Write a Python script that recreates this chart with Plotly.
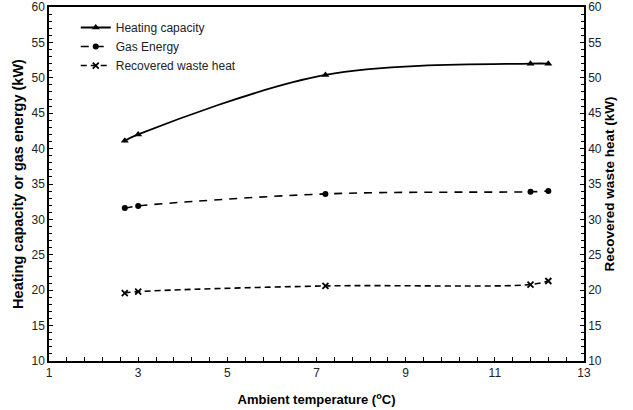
import plotly.graph_objects as go

temps = [2.7, 3.0, 7.2, 11.8, 12.2]
heating = [41.1, 42.0, 50.4, 52.0, 52.0]
gas = [31.6, 31.9, 33.6, 33.9, 34.0]
waste = [19.6, 19.8, 20.6, 20.8, 21.3]

x_ticks = [1, 3, 5, 7, 9, 11, 13]
y_ticks = [10, 15, 20, 25, 30, 35, 40, 45, 50, 55, 60]

fig = go.Figure()
fig.add_trace(go.Scatter(x=temps, y=heating, name="Heating capacity", mode="lines+markers",
                         line=dict(color="black", width=1.8, shape="spline"),
                         marker=dict(symbol="triangle-up", size=7, color="black")))
fig.add_trace(go.Scatter(x=temps, y=gas, name="Gas Energy", mode="lines+markers",
                         line=dict(color="black", width=1.6, dash="8px,7px", shape="spline"),
                         marker=dict(symbol="circle", size=6, color="black")))
fig.add_trace(go.Scatter(x=temps, y=waste, name="Recovered waste heat", mode="lines+markers",
                         yaxis="y2",
                         line=dict(color="black", width=1.6, dash="6px,4px", shape="spline"),
                         marker=dict(symbol="x-thin", size=6, color="black",
                                     line=dict(color="black", width=1.8))))

font = dict(family="Liberation Sans, Arial", size=12, color="#222")


def tfont(sz):
    return dict(family="Liberation Sans, Arial", size=sz, color="black", weight="bold")


fig.update_layout(
    width=633, height=410,
    margin=dict(l=49, r=49, t=7, b=49),
    paper_bgcolor="white", plot_bgcolor="white",
    font=font,
    showlegend=True,
    legend=dict(x=0.05, y=0.983, xanchor="left", yanchor="top",
                bgcolor="rgba(0,0,0,0)", font=dict(family="Liberation Sans, Arial", size=12, color="#222"),
                itemwidth=30, tracegroupgap=0),
    xaxis=dict(range=[1, 13], tickvals=x_ticks, ticktext=[str(v) for v in x_ticks],
               ticks="inside", ticklen=4, tickcolor="black", automargin=False,
               ticklabeloverflow="allow",
               minor=dict(dtick=0.4, tick0=1, ticks="inside", ticklen=4, tickcolor="black"),
               showline=True, linecolor="black", linewidth=1.5, mirror=True,
               showgrid=False, zeroline=False,
               title=dict(text="Ambient temperature (<sup>o</sup>C)", font=tfont(13), standoff=16)),
    yaxis=dict(range=[10, 60], tickvals=y_ticks, ticks="inside", ticklen=4, tickcolor="black",
               automargin=False, ticklabeloverflow="allow",
               minor=dict(dtick=1, ticks="inside", ticklen=3, tickcolor="black"),
               showline=True, linecolor="black", linewidth=1.5,
               showgrid=False, zeroline=False,
               title=dict(text="Heating capacity or gas energy (kW)", font=tfont(14.5), standoff=4)),
    yaxis2=dict(range=[10, 60], tickvals=y_ticks, overlaying="y", side="right",
                ticks="inside", ticklen=4, tickcolor="black", automargin=False,
                ticklabeloverflow="allow",
                minor=dict(dtick=1, ticks="inside", ticklen=3, tickcolor="black"),
                showline=True, linecolor="black", linewidth=1.5,
                showgrid=False, zeroline=False,
                title=dict(text="Recovered waste heat (kW)", font=tfont(13.5), standoff=4)),
)

fig.write_html("out.html")
